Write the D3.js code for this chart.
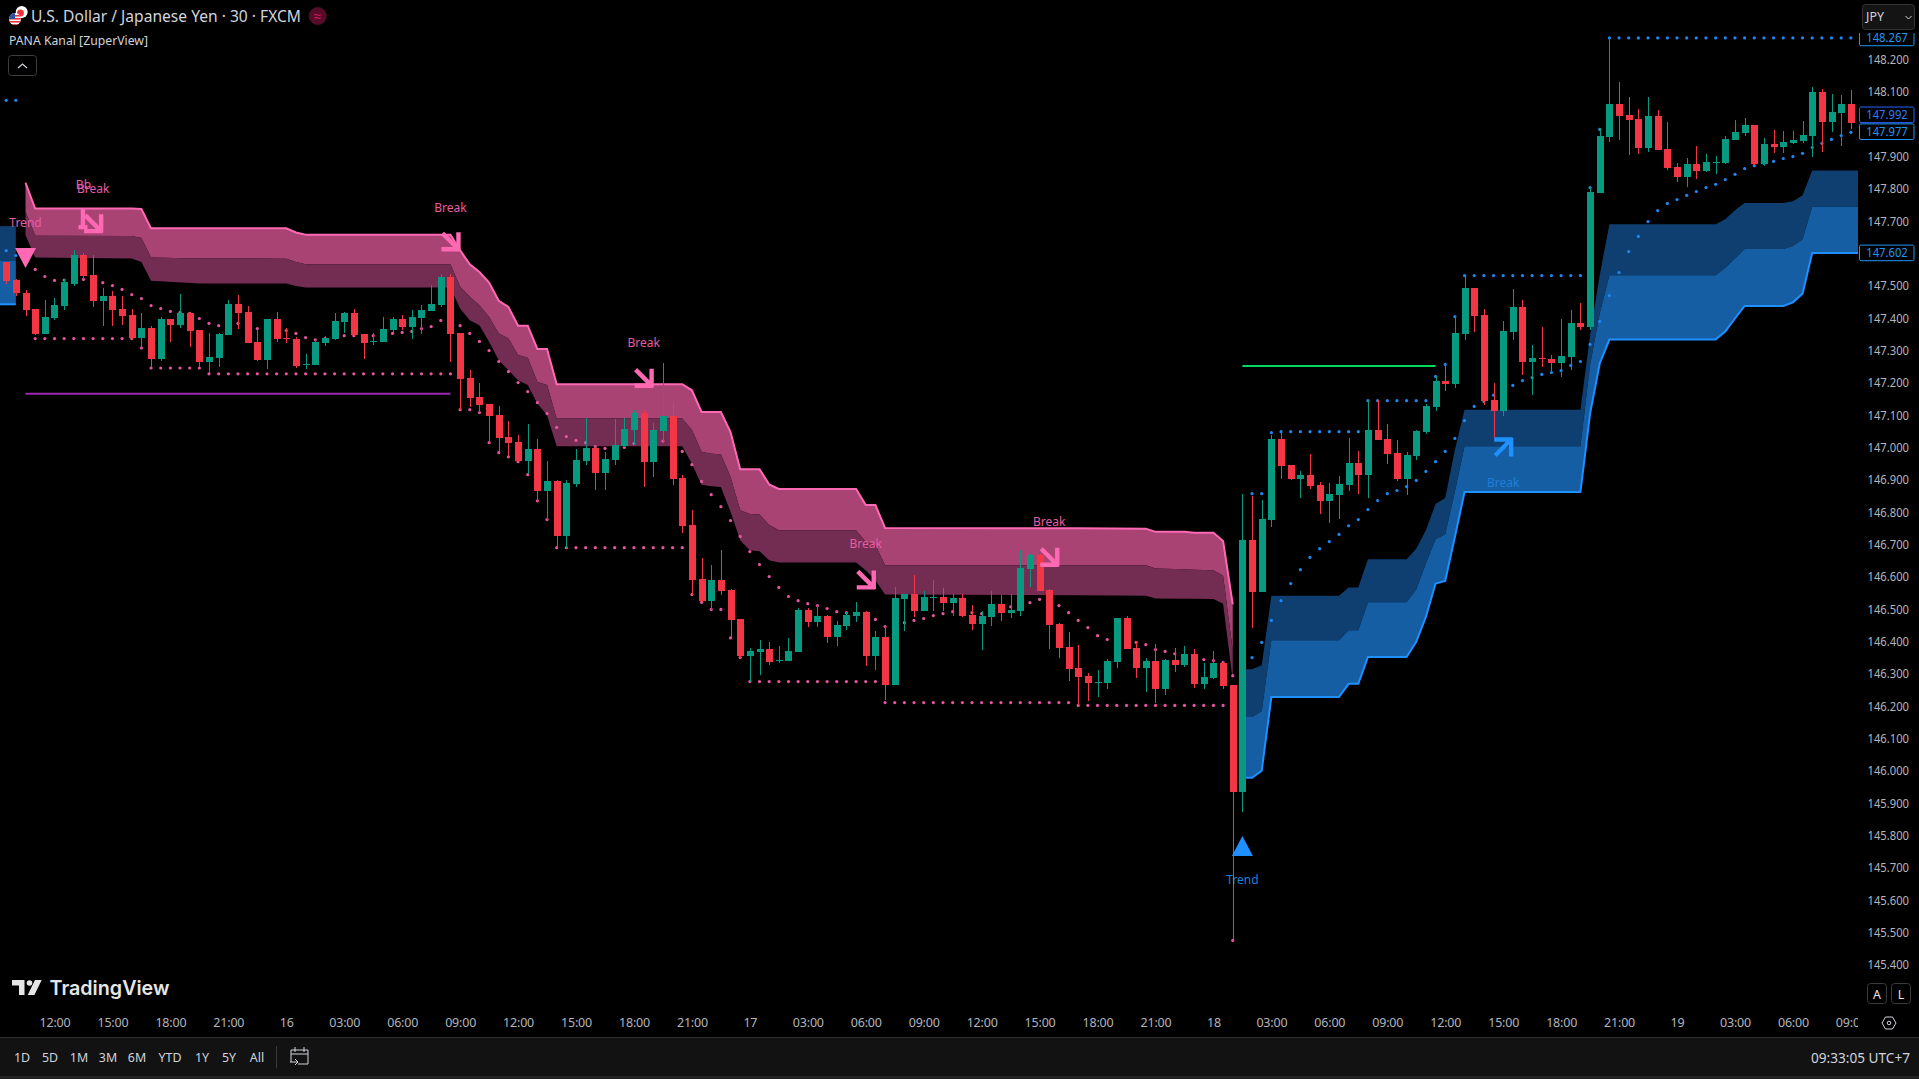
<!DOCTYPE html>
<html><head><meta charset="utf-8">
<script src="https://cdn.jsdelivr.net/npm/d3@7/dist/d3.min.js"></script>
<style>html,body{margin:0;padding:0;background:#000;overflow:hidden}svg{display:block}text{font-family:"Noto Sans",sans-serif}</style>
</head><body><svg id="c" width="1919" height="1079"></svg>
<script>
const opens=[147.573,147.518,147.479,147.427,147.352,147.401,147.438,147.506,147.595,147.533,147.453,147.468,147.428,147.409,147.338,147.369,147.273,147.397,147.378,147.416,147.363,147.264,147.276,147.347,147.443,147.419,147.326,147.270,147.397,147.338,147.335,147.256,147.255,147.323,147.335,147.388,147.416,147.351,147.325,147.326,147.363,147.397,147.372,147.400,147.422,147.440,147.527,147.354,147.214,147.156,147.134,147.100,147.032,147.016,146.958,146.995,146.865,146.896,146.726,146.886,146.958,146.998,146.920,146.961,147.004,147.054,147.106,146.955,147.050,147.097,146.905,146.760,146.592,146.524,146.589,146.558,146.469,146.354,146.367,146.376,146.339,146.339,146.367,146.496,146.459,146.478,146.413,146.447,146.478,146.490,146.354,146.413,146.264,146.531,146.546,146.493,146.535,146.537,146.518,146.534,146.481,146.453,146.475,146.515,146.487,146.493,146.623,146.667,146.558,146.453,146.382,146.317,146.292,146.272,146.271,146.336,146.472,146.379,146.317,146.339,146.252,146.342,146.326,146.360,146.268,146.286,146.332,146.264,145.933,146.713,146.552,146.775,147.026,146.945,146.902,146.914,146.883,146.834,146.852,146.883,146.951,146.914,147.054,147.026,146.982,146.902,146.973,147.047,147.125,147.205,147.196,147.351,147.493,147.409,147.146,147.112,147.357,147.434,147.264,147.276,147.273,147.261,147.279,147.385,147.372,147.787,147.960,148.062,148.028,148.016,147.926,148.025,147.923,147.867,147.836,147.877,147.855,147.881,147.880,147.951,147.972,147.997,147.877,147.938,147.929,147.942,147.948,147.963,148.099,148.006,148.034,148.062,148.006];
const highs=[147.573,147.520,147.487,147.427,147.456,147.461,147.520,147.610,147.603,147.594,147.492,147.484,147.468,147.430,147.415,147.375,147.404,147.399,147.476,147.419,147.363,147.353,147.355,147.456,147.473,147.437,147.368,147.397,147.419,147.371,147.342,147.289,147.332,147.344,147.417,147.420,147.430,147.351,147.353,147.404,147.404,147.409,147.425,147.440,147.502,147.538,147.536,147.354,147.239,147.198,147.134,147.128,147.081,147.038,147.072,147.026,146.958,146.899,146.899,146.995,147.092,147.004,146.985,147.088,147.092,147.115,147.115,147.075,147.261,147.140,146.914,146.806,146.657,146.636,146.682,146.561,146.469,146.379,146.404,146.398,146.385,146.410,146.503,146.505,146.512,146.481,146.462,146.491,146.521,146.493,146.432,146.450,146.568,146.546,146.605,146.555,146.589,146.565,146.546,146.546,146.512,146.493,146.555,146.543,146.546,146.682,146.670,146.670,146.561,146.456,146.429,146.388,146.302,146.311,146.345,146.472,146.478,146.401,146.348,146.391,146.345,146.379,146.385,146.376,146.332,146.370,146.339,146.264,146.857,146.849,146.837,147.038,147.050,146.945,146.927,146.979,146.893,146.890,146.911,147.029,146.988,147.146,147.146,147.072,147.023,146.985,147.054,147.136,147.221,147.260,147.406,147.533,147.493,147.428,147.199,147.391,147.490,147.456,147.316,147.372,147.286,147.397,147.425,147.446,147.806,147.987,148.268,148.130,148.084,148.047,148.084,148.044,148.006,147.880,147.895,147.932,147.907,147.901,147.963,148.013,148.019,147.997,147.957,147.982,147.979,147.979,148.010,148.115,148.109,148.093,148.090,148.106,148.006];
const lows=[147.507,147.468,147.407,147.347,147.352,147.394,147.425,147.499,147.518,147.435,147.375,147.375,147.378,147.332,147.308,147.249,147.268,147.327,147.369,147.311,147.249,147.231,147.249,147.347,147.368,147.323,147.267,147.242,147.326,147.324,147.246,147.243,147.255,147.314,147.332,147.353,147.344,147.273,147.316,147.326,147.353,147.363,147.335,147.351,147.422,147.435,147.265,147.115,147.124,147.107,147.015,146.984,146.971,146.955,146.917,146.835,146.777,146.690,146.690,146.878,146.945,146.868,146.868,146.945,147.000,147.007,146.878,146.909,147.017,146.883,146.736,146.543,146.521,146.496,146.543,146.411,146.350,146.275,146.295,146.326,146.332,146.339,146.367,146.444,146.444,146.394,146.385,146.435,146.459,146.323,146.311,146.218,146.264,146.432,146.475,146.493,146.493,146.493,146.478,146.475,146.435,146.373,146.447,146.462,146.472,146.478,146.568,146.555,146.376,146.348,146.277,146.203,146.215,146.227,146.252,146.317,146.376,146.286,146.243,146.209,146.234,146.305,146.320,146.255,146.252,146.283,146.252,145.475,145.871,146.441,146.552,146.754,146.902,146.899,146.843,146.871,146.794,146.766,146.778,146.865,146.856,146.843,147.023,146.948,146.896,146.852,146.961,147.041,147.112,147.174,147.183,147.332,147.357,147.131,147.029,147.097,147.332,147.224,147.162,147.248,147.227,147.217,147.239,147.363,147.363,147.787,147.945,147.951,147.904,147.907,147.914,147.920,147.858,147.821,147.805,147.830,147.852,147.846,147.877,147.951,147.963,147.873,147.870,147.911,147.911,147.938,147.942,147.898,147.914,147.976,147.932,147.985,147.991];
const closes=[147.515,147.478,147.426,147.352,147.403,147.440,147.511,147.595,147.531,147.453,147.468,147.425,147.406,147.338,147.369,147.273,147.397,147.378,147.416,147.360,147.264,147.279,147.351,147.443,147.416,147.323,147.270,147.397,147.335,147.336,147.252,147.258,147.326,147.338,147.391,147.416,147.347,147.323,147.328,147.366,147.397,147.372,147.403,147.425,147.443,147.527,147.351,147.211,147.152,147.131,147.097,147.029,147.013,146.958,146.995,146.865,146.896,146.726,146.890,146.961,146.998,146.920,146.964,147.007,147.057,147.106,146.955,147.054,147.097,146.902,146.756,146.589,146.524,146.589,146.555,146.466,146.354,146.370,146.376,146.336,146.342,146.370,146.496,146.459,146.478,146.413,146.450,146.481,146.490,146.354,146.413,146.264,146.534,146.546,146.493,146.537,146.537,146.518,146.534,146.478,146.453,146.478,146.515,146.487,146.496,146.626,146.667,146.555,146.450,146.379,146.314,146.289,146.271,146.274,146.339,146.472,146.376,146.317,146.339,146.252,146.342,146.326,146.360,146.268,146.289,146.332,146.261,145.933,146.713,146.552,146.778,147.026,146.942,146.902,146.914,146.880,146.834,146.856,146.886,146.951,146.914,147.054,147.023,146.979,146.902,146.976,147.050,147.128,147.205,147.196,147.354,147.493,147.406,147.143,147.112,147.360,147.434,147.264,147.276,147.273,147.261,147.282,147.385,147.372,147.790,147.963,148.062,148.025,148.013,147.926,148.025,147.920,147.864,147.836,147.877,147.855,147.883,147.883,147.954,147.976,147.997,147.877,147.938,147.929,147.945,147.951,147.966,148.099,148.006,148.037,148.062,148.003,147.992];

const pinkBars=[2,3,13,14,15,20,29,30,31,46,47,48,49,50,51,52,53,54,55,56,57,70,71,72,73,74,75,76,77,78,79,80,88,89,90,91,111,118,119,122,123,125,126,127];
const pinkUpper=[147.819,147.739,147.739,147.738,147.678,147.678,147.678,147.665,147.658,147.658,147.610,147.567,147.543,147.510,147.454,147.435,147.377,147.377,147.305,147.305,147.196,147.196,147.177,147.110,147.110,147.110,147.048,146.933,146.933,146.933,146.886,146.872,146.872,146.822,146.822,146.751,146.750,146.749,146.739,146.739,146.736,146.736,146.711,146.515];
const pinkMiddle=[147.729,147.655,147.654,147.648,147.588,147.585,147.584,147.574,147.567,147.567,147.497,147.466,147.440,147.404,147.353,147.337,147.286,147.278,147.203,147.193,147.090,147.090,147.054,146.987,146.981,146.979,146.909,146.806,146.794,146.793,146.760,146.744,146.744,146.708,146.698,146.636,146.636,146.636,146.626,146.623,146.622,146.620,146.603,146.373];
const pinkLower=[147.657,147.588,147.585,147.574,147.516,147.507,147.507,147.500,147.495,147.495,147.430,147.394,147.378,147.327,147.270,147.239,147.208,147.193,147.136,147.100,147.004,147.004,146.950,146.885,146.880,146.878,146.801,146.713,146.682,146.679,146.651,146.644,146.644,146.620,146.589,146.545,146.543,146.541,146.533,146.532,146.532,146.531,146.517,146.280];

const blueBars=[128,129,130,131,138,139,140,141,145,146,147,148,149,150,151,163,164,165,166,177,178,179,180,184,185,186,187,192];
const blueUpper=[146.314,146.314,146.326,146.541,146.541,146.567,146.567,146.654,146.654,146.687,146.744,146.825,146.844,146.992,147.117,147.117,147.347,147.533,147.691,147.691,147.706,147.734,147.756,147.756,147.762,147.780,147.857,147.857];
const blueMiddle=[146.166,146.166,146.184,146.404,146.404,146.435,146.435,146.521,146.521,146.561,146.641,146.716,146.732,146.863,147.004,147.004,147.255,147.415,147.533,147.533,147.556,147.585,147.614,147.614,147.623,147.644,147.745,147.745];
const blueLower=[145.978,145.978,146.000,146.228,146.228,146.269,146.269,146.352,146.352,146.399,146.476,146.579,146.587,146.723,146.862,146.862,147.105,147.260,147.334,147.334,147.359,147.399,147.438,147.438,147.449,147.476,147.602,147.602];

const earlyBlueBars=[-1,0,1];
const earlyBlueUpper=[147.685,147.685,147.685];
const earlyBlueMiddle=[147.577,147.577,147.577];
const earlyBlueLower=[147.443,147.443,147.443];

const pinkTrail=[147.551,147.529,147.517,147.518,147.520,147.520,147.516,147.510,147.501,147.489,147.473,147.461,147.439,147.430,147.421,147.418,147.415,147.399,147.384,147.377,147.378,147.384,147.375,147.368,147.365,147.363,147.362,147.353,147.340,147.333,147.337,147.342,147.346,147.346,147.346,147.346,147.350,147.353,147.356,147.359,147.368,147.374,147.393,147.389,147.377,147.353,147.328,147.300,147.266,147.235,147.201,147.173,147.139,147.105,147.062,147.034,147.022,147.015,147.003,146.997,147.000,147.000,147.012,147.012,147.017,147.020,147.007,146.988,146.947,146.895,146.854,146.817,146.774,146.725,146.678,146.638,146.601,146.567,146.539,146.526,146.517,146.511,146.502,146.492,146.489,146.486,146.486,146.468,146.446,146.453,146.458,146.465,146.471,146.480,146.486,146.492,146.492,146.489,146.486,146.496,146.502,146.507,146.512,146.520,146.530,146.522,146.511,146.489,146.465,146.443,146.418,146.406,146.402,146.399,146.397,146.390,146.375,146.369,146.362,146.352,146.347,146.344,146.341,146.335,146.294];
const pinkTrailFirstBar=3;
const blueTrail=[146.350,146.397,146.465,146.526,146.579,146.622,146.660,146.687,146.709,146.731,146.758,146.777,146.808,146.836,146.857,146.867,146.879,146.898,146.926,146.956,146.988,147.028,147.083,147.127,147.142,147.162,147.177,147.192,147.207,147.216,147.226,147.232,147.238,147.254,147.266,147.319,147.390,147.470,147.541,147.606,147.653,147.699,147.733,147.755,147.767,147.780,147.792,147.804,147.814,147.829,147.845,147.863,147.872,147.879,147.885,147.894,147.900,147.910,147.928,147.941,147.953,147.965,147.975];
const blueTrailFirstBar=129;
const earlyBlueTrail=[147.609,147.594];

const pinkFloorFrom=[3,14,15,21,47,49,50,51,52,53,54,55,56,57,71,72,73,75,76,77,91,111,127];
const pinkFloorTo=[13,14,20,46,48,49,50,51,52,53,54,55,56,70,71,72,74,75,76,90,110,126,127];
const pinkFloorValue=[147.337,147.308,147.246,147.228,147.117,147.108,147.015,146.984,146.971,146.956,146.916,146.835,146.777,146.690,146.545,146.521,146.499,146.411,146.350,146.276,146.211,146.202,145.475];
const blueCeilFrom=[0,129,131,132,141,148,149,150,151,164,165,166];
const blueCeilTo=[1,130,131,140,147,148,149,150,163,164,165,191];
const blueCeilValue=[148.074,146.857,147.046,147.049,147.145,147.220,147.257,147.405,147.532,147.804,147.984,148.267];

const levelLines=[{from:2,to:46,price:147.166,color:"#9c27b0"},{from:128,to:148,price:147.252,color:"#00d95f"}];
const labelText=["Trend","Break","Bb","Break","Break","Break","Break","Trend","Break"];
const labelBar=[2,9,8,46,66,89,108,128,155];
const labelPrice=[147.695,147.802,147.815,147.743,147.324,146.702,146.770,145.665,146.891];
const labelSide=["p","p","p","p","p","p","p","b","b"];
const downArrowBar=[9,46,66,89,108];
const downArrowPrice=[147.694,147.638,147.216,146.592,146.662];
const upArrowBar=[155];
const upArrowPrice=[147.000];

const priceTicks=[148.2,148.1,147.9,147.8,147.7,147.5,147.4,147.3,147.2,147.1,147.0,146.9,146.8,146.7,146.6,146.5,146.4,146.3,146.2,146.1,146.0,145.9,145.8,145.7,145.6,145.5,145.4];
const timeLabels=["12:00","15:00","18:00","21:00","16","03:00","06:00","09:00","12:00","15:00","18:00","21:00","17","03:00","06:00","09:00","12:00","15:00","18:00","21:00","18","03:00","06:00","09:00","12:00","15:00","18:00","21:00","19","03:00","06:00","09:00"];
const timeBars=timeLabels.map((d,k)=>5+6*k);
const tagValues=[148.267,147.992,147.977,147.602];
const tagShift=[0,-12,0,0];
const tagColors=["#2196f3","#2962ff","#2196f3","#2196f3"];
const rangeButtons=["1D","5D","1M","3M","6M","YTD","1Y","5Y","All"];
const rangeX=[22,50,79,108,137,170,202,229,257];

const UP="#089981",DN="#f23645",PK="#ff69b4",BL="#2196f3";
const svg=d3.select("#c");
svg.append("rect").attr("width",1919).attr("height",1079).attr("fill","#000");
const defs=svg.append("defs");
defs.append("clipPath").attr("id","pane").append("rect").attr("x",0).attr("y",0).attr("width",1858).attr("height",1037);
defs.append("clipPath").attr("id","tax").append("rect").attr("x",0).attr("y",1005).attr("width",1858).attr("height",32);
defs.append("clipPath").attr("id","tag").append("rect").attr("x",1855).attr("y",33).attr("width",64).attr("height",300);
defs.append("clipPath").attr("id","us").append("circle").attr("cx",15).attr("cy",19).attr("r",6);

const x=d3.scaleLinear().domain([0,192]).range([6.2,1860.5]);
const y=d3.scaleLinear().domain([145.4,148.2]).range([964.7,59.6]);
const pane=svg.append("g").attr("clip-path","url(#pane)");

function band(g,bars,a,b,fill){
  const area=d3.area().x((d,k)=>x(bars[k])).y0((d,k)=>y(b[k])).y1((d,k)=>y(a[k]));
  g.append("path").attr("d",area(bars)).attr("fill",fill);
}
function edge(g,bars,a,color){
  const line=d3.line().x((d,k)=>x(bars[k])).y((d,k)=>y(a[k]));
  g.append("path").attr("d",line(bars)).attr("fill","none").attr("stroke",color).attr("stroke-width",2);
}
const bands=pane.append("g");
band(bands,earlyBlueBars,earlyBlueUpper,earlyBlueMiddle,"#0e3f70");
band(bands,earlyBlueBars,earlyBlueMiddle,earlyBlueLower,"#155ea3");
edge(bands,earlyBlueBars,earlyBlueLower,"#1e90ff");
band(bands,pinkBars,pinkUpper,pinkMiddle,"#a84374");
band(bands,pinkBars,pinkMiddle,pinkLower,"#732d52");
edge(bands,pinkBars,pinkUpper,PK);
band(bands,blueBars,blueUpper,blueMiddle,"#0e3f70");
band(bands,blueBars,blueMiddle,blueLower,"#155ea3");
edge(bands,blueBars,blueLower,"#1e90ff");

function dots(g,data,color){
  g.selectAll(null).data(data).join("circle")
   .attr("cx",d=>x(d[0])).attr("cy",d=>y(d[1])).attr("r",1.6).attr("fill",color);
}
function runs(from,to,val){
  const out=[];
  from.forEach((f,k)=>d3.range(f,to[k]+1).forEach(i=>out.push([i,val[k]])));
  return out;
}
const dotG=pane.append("g");
dots(dotG,pinkTrail.map((v,k)=>[k+pinkTrailFirstBar,v]),"#e8559f");
dots(dotG,runs(pinkFloorFrom,pinkFloorTo,pinkFloorValue),"#e8559f");
dots(dotG,blueTrail.map((v,k)=>[k+blueTrailFirstBar,v]),"#1e88f0");
dots(dotG,earlyBlueTrail.map((v,k)=>[k,v]),"#1e88f0");
dots(dotG,runs(blueCeilFrom,blueCeilTo,blueCeilValue),"#1e88f0");

const candles=pane.append("g");
const idx=d3.range(opens.length);
candles.selectAll("rect.w").data(idx).join("rect").attr("class","w")
  .attr("x",i=>Math.round(x(i))).attr("width",1)
  .attr("y",i=>Math.round(y(highs[i])))
  .attr("height",i=>Math.max(1,Math.round(y(lows[i]))-Math.round(y(highs[i]))))
  .attr("fill",i=>closes[i]>=opens[i]?UP:DN);
candles.selectAll("rect.b").data(idx).join("rect").attr("class","b")
  .attr("x",i=>Math.round(x(i))-3).attr("width",7)
  .attr("y",i=>Math.round(y(Math.max(opens[i],closes[i]))))
  .attr("height",i=>Math.max(1,Math.round(y(Math.min(opens[i],closes[i])))-Math.round(y(Math.max(opens[i],closes[i])))))
  .attr("fill",i=>closes[i]>=opens[i]?UP:DN);

pane.selectAll("line.lv").data(levelLines).join("line").attr("class","lv")
  .attr("x1",d=>x(d.from)).attr("x2",d=>x(d.to))
  .attr("y1",d=>y(d.price)).attr("y2",d=>y(d.price))
  .attr("stroke",d=>d.color).attr("stroke-width",2);

const mk=pane.append("g");
// trend triangles
mk.append("path").attr("d",d3.line()([[x(2)-10.5,y(147.586)-10],[x(2)+10.5,y(147.586)-10],[x(2),y(147.586)+10]])+"Z").attr("fill",PK);
mk.append("path").attr("d",d3.line()([[x(128)-10.5,y(145.767)+10],[x(128)+10.5,y(145.767)+10],[x(128),y(145.767)-10]])+"Z").attr("fill","#1e90ff");
function arrowDown(i,p,color){
  const cx=x(i),cy=y(p),s=8;
  mk.append("path").attr("d",`M${cx-s},${cy-s}L${cx+s},${cy+s}M${cx+s},${cy-s-1}L${cx+s},${cy+s+1.5}M${cx-s-1},${cy+s}L${cx+s+1.5},${cy+s}`)
    .attr("fill","none").attr("stroke",color).attr("stroke-width",4.4);
}
function arrowUp(i,p,color){
  const cx=x(i),cy=y(p),s=8;
  mk.append("path").attr("d",`M${cx-s},${cy+s}L${cx+s},${cy-s}M${cx+s},${cy+s+1}L${cx+s},${cy-s-1.5}M${cx-s-1},${cy-s}L${cx+s+1.5},${cy-s}`)
    .attr("fill","none").attr("stroke",color).attr("stroke-width",4.4);
}
downArrowBar.forEach((b,k)=>arrowDown(b,downArrowPrice[k],PK));
upArrowBar.forEach((b,k)=>arrowUp(b,upArrowPrice[k],"#1e90ff"));
// overlapped partial arrow beside the first break
mk.append("path").attr("d",`M${x(8)-0.5},${y(147.694)-15}V${y(147.694)+3}M${x(8)-5},${y(147.694)+4}H${x(8)+4}`)
  .attr("fill","none").attr("stroke",PK).attr("stroke-width",4.4);

pane.selectAll("text.lb").data(labelText).join("text").attr("class","lb")
  .attr("x",(d,k)=>x(labelBar[k])).attr("y",(d,k)=>y(labelPrice[k]))
  .attr("text-anchor","middle").attr("dominant-baseline","central")
  .attr("font-size",12).attr("fill",(d,k)=>labelSide[k]==="p"?"#e65da4":"#1f7fd8").text(d=>d);

// price axis
const ax=svg.append("g").attr("transform","translate(1867.5,0)").call(d3.axisRight(y).tickValues(priceTicks).tickFormat(d3.format(".3f")).tickSize(0).tickPadding(0));
ax.select(".domain").remove();
ax.selectAll("text").attr("fill","#b2b5be").attr("font-size",12.6).style("font-family",'"Noto Sans",sans-serif').attr("textLength",41.5).attr("lengthAdjust","spacingAndGlyphs");

// price tags
const tagG=svg.append("g").attr("clip-path","url(#tag)");
tagValues.forEach((v,k)=>{
  const c=y(v)+tagShift[k];
  tagG.append("rect").attr("x",1859.5).attr("y",c-7.8).attr("width",54.5).attr("height",15.6).attr("rx",1.5).attr("fill","#000").attr("stroke",tagColors[k]);
  tagG.append("text").attr("x",1887).attr("y",c).attr("text-anchor","middle").attr("dominant-baseline","central")
    .attr("font-size",12.6).attr("fill",tagColors[k]==="#2962ff"?"#2d7bff":"#2196f3").attr("textLength",41.5).attr("lengthAdjust","spacingAndGlyphs").text(d3.format(".3f")(v));
});

// time axis
const tg=svg.append("g").attr("clip-path","url(#tax)");
const tx=tg.append("g").attr("transform","translate(0,1018)").call(d3.axisBottom(x).tickValues(timeBars).tickFormat((d,k)=>timeLabels[k]).tickSize(0).tickPadding(0));
tx.select(".domain").remove();
tx.selectAll("text").attr("fill","#b2b5be").attr("font-size",12.5).attr("letter-spacing",-0.2).style("font-family",'"Noto Sans",sans-serif');

// toolbar
svg.append("rect").attr("x",0).attr("y",1037).attr("width",1919).attr("height",39).attr("fill","#121212");
svg.append("rect").attr("x",0).attr("y",1037).attr("width",1919).attr("height",1).attr("fill","#2e2e2e");
svg.append("rect").attr("x",0).attr("y",1076).attr("width",1919).attr("height",3).attr("fill","#222");
svg.selectAll("text.rb").data(rangeButtons).join("text").attr("class","rb")
  .attr("x",(d,k)=>rangeX[k]).attr("y",1057).attr("text-anchor","middle").attr("dominant-baseline","central")
  .attr("font-size",12.4).attr("fill","#d1d4dc").text(d=>d);
svg.append("rect").attr("x",276).attr("y",1046).attr("width",1).attr("height",22).attr("fill","#3a3a3a");
svg.append("path").attr("d","M291,1062V1050H308V1064H298M295,1047V1052M304,1047V1052M291,1054H308M290,1062H297M295,1059L298,1062L295,1065")
  .attr("fill","none").attr("stroke","#d1d4dc");
svg.append("text").attr("x",1910).attr("y",1057).attr("text-anchor","end").attr("dominant-baseline","central")
  .attr("font-size",13.6).attr("fill","#d1d4dc").attr("textLength",99).attr("lengthAdjust","spacingAndGlyphs").text("09:33:05 UTC+7");

// header
svg.append("text").attr("x",31).attr("y",16).attr("dominant-baseline","central").attr("font-size",15.7).attr("fill","#d1d4dc").attr("textLength",270).attr("lengthAdjust","spacingAndGlyphs").text("U.S. Dollar / Japanese Yen · 30 · FXCM");
svg.append("text").attr("x",9).attr("y",40).attr("dominant-baseline","central").attr("font-size",12.5).attr("fill","#d1d4dc").attr("textLength",139).attr("lengthAdjust","spacingAndGlyphs").text("PANA Kanal [ZuperView]");
svg.append("circle").attr("cx",21.7).attr("cy",12).attr("r",6).attr("fill","#fff");
svg.append("circle").attr("cx",20.5).attr("cy",13).attr("r",3.4).attr("fill","#e8333c");
const fl=svg.append("g").attr("clip-path","url(#us)");
fl.append("rect").attr("x",9).attr("y",13).attr("width",12).attr("height",12).attr("fill","#fff");
[15,18,21,24].forEach(v=>fl.append("rect").attr("x",9).attr("y",v).attr("width",12).attr("height",1.6).attr("fill","#e8333c"));
fl.append("rect").attr("x",9).attr("y",13).attr("width",6).attr("height",6).attr("fill","#2b4fa3");
svg.append("circle").attr("cx",317.7).attr("cy",16).attr("r",9).attr("fill","#560b2b");
svg.append("text").attr("x",317.7).attr("y",15.5).attr("text-anchor","middle").attr("dominant-baseline","central").attr("font-size",14).attr("fill","#d81b60").text("≈");
svg.append("rect").attr("x",8.5).attr("y",55.5).attr("width",28).attr("height",20).attr("rx",3).attr("fill","none").attr("stroke","#3d3d3d");
svg.append("path").attr("d","M18,68L22.5,64L27,68").attr("fill","none").attr("stroke","#d1d4dc").attr("stroke-width",1.2);

// JPY button
svg.append("rect").attr("x",1862.5).attr("y",4.5).attr("width",52).attr("height",25).attr("rx",3).attr("fill","#141414").attr("stroke","#333");
svg.append("text").attr("x",1866).attr("y",16.5).attr("dominant-baseline","central").attr("font-size",12.4).attr("fill","#d1d4dc").text("JPY");
svg.append("path").attr("d","M1905.5,16L1908.5,19L1911.5,16").attr("fill","none").attr("stroke","#d1d4dc");

// A / L / settings
[[1867,"A"],[1891,"L"]].forEach(b=>{
  svg.append("rect").attr("x",b[0]+.5).attr("y",983.5).attr("width",19).attr("height",20).attr("rx",3).attr("fill","#000").attr("stroke","#3a3a3a");
  svg.append("text").attr("x",b[0]+10).attr("y",994).attr("text-anchor","middle").attr("dominant-baseline","central").attr("font-size",12.4).attr("fill","#e6e6e6").text(b[1]);
});
svg.append("path").attr("d","M1882,1023L1885.5,1017H1892.5L1896,1023L1892.5,1029H1885.5Z").attr("fill","none").attr("stroke","#d1d4dc");
svg.append("circle").attr("cx",1889).attr("cy",1023).attr("r",1.8).attr("fill","none").attr("stroke","#d1d4dc");

// logo
const lg=svg.append("g").attr("fill","#e6e6e6");
lg.append("path").attr("d","M12,980H24.5V995H19V985.5H12Z");
lg.append("circle").attr("cx",29.5).attr("cy",983).attr("r",2.8);
lg.append("path").attr("d","M35,980H41.7L34.4,995H27.7Z");
lg.append("text").attr("x",49.5).attr("y",995).attr("font-size",20).attr("font-weight",600).style("font-family","Inter,sans-serif").attr("textLength",120).attr("lengthAdjust","spacingAndGlyphs").text("TradingView");
</script></body></html>
